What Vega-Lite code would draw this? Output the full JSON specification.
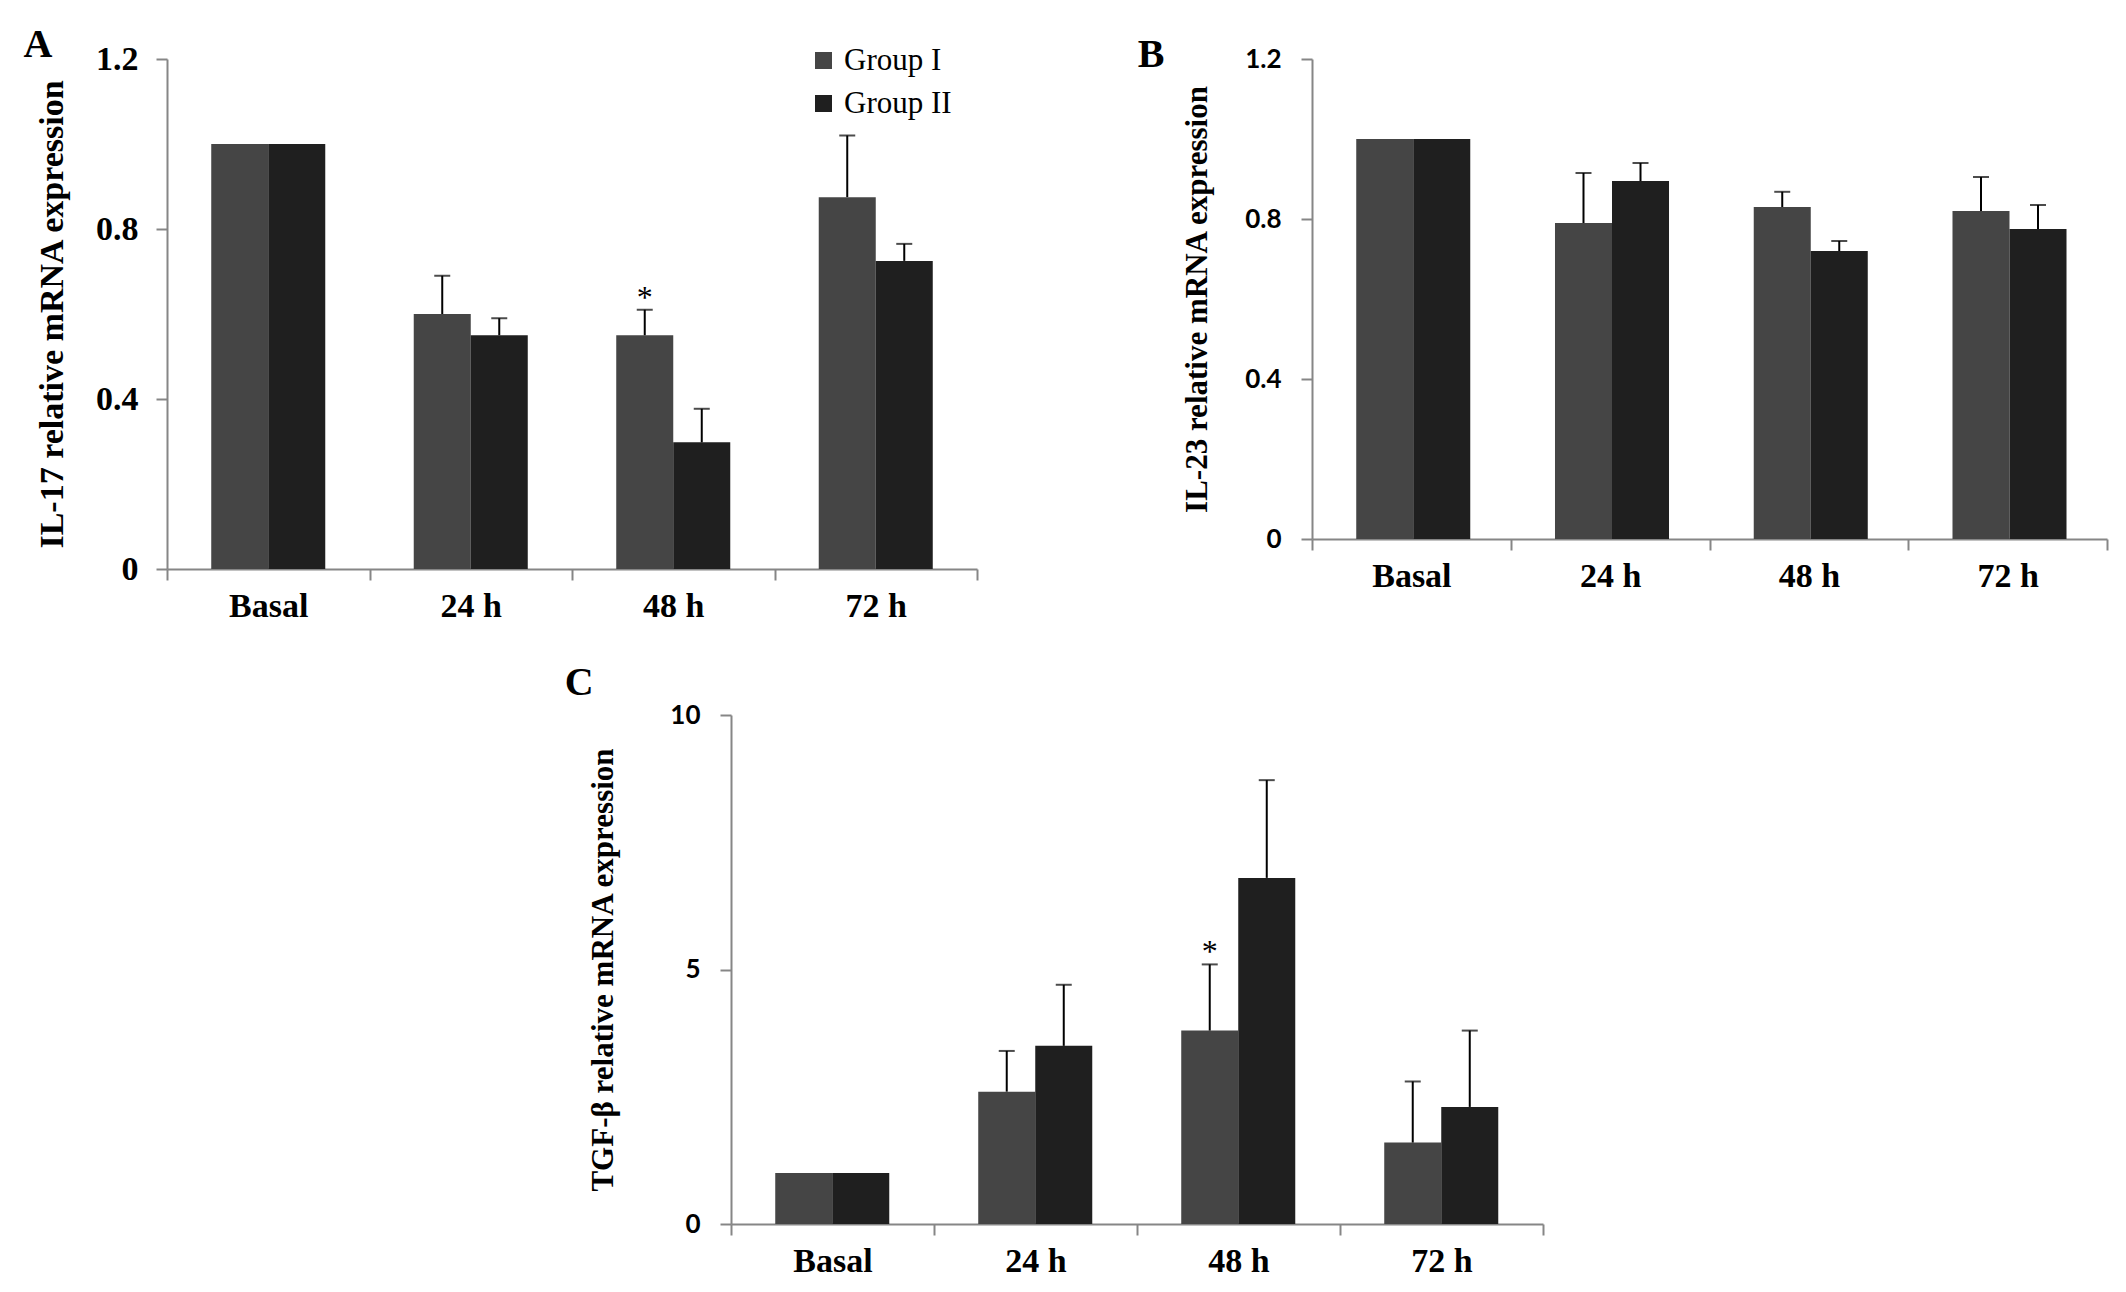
{
  "$schema": "https://vega.github.io/schema/vega-lite/v6.json",
  "background": "white",
  "padding": {"left": 23, "top": 25, "right": 5, "bottom": 5},
  "center": true,
  "spacing": 40,
  "config": {"view": {"stroke": null}, "font": "Liberation Serif"},
  "datasets": {
    "A": [
      {"time": "Basal", "group": "Group I", "value": 1.0},
      {"time": "Basal", "group": "Group II", "value": 1.0},
      {"time": "24 h", "group": "Group I", "value": 0.6, "upper": 0.69},
      {"time": "24 h", "group": "Group II", "value": 0.55, "upper": 0.59},
      {"time": "48 h", "group": "Group I", "value": 0.55, "upper": 0.61, "sig": "*"},
      {"time": "48 h", "group": "Group II", "value": 0.298, "upper": 0.377},
      {"time": "72 h", "group": "Group I", "value": 0.875, "upper": 1.02},
      {"time": "72 h", "group": "Group II", "value": 0.725, "upper": 0.765}
    ],
    "B": [
      {"time": "Basal", "group": "Group I", "value": 1.0},
      {"time": "Basal", "group": "Group II", "value": 1.0},
      {"time": "24 h", "group": "Group I", "value": 0.79, "upper": 0.915},
      {"time": "24 h", "group": "Group II", "value": 0.895, "upper": 0.94},
      {"time": "48 h", "group": "Group I", "value": 0.83, "upper": 0.868},
      {"time": "48 h", "group": "Group II", "value": 0.72, "upper": 0.745},
      {"time": "72 h", "group": "Group I", "value": 0.82, "upper": 0.905},
      {"time": "72 h", "group": "Group II", "value": 0.775, "upper": 0.835}
    ],
    "C": [
      {"time": "Basal", "group": "Group I", "value": 1.0},
      {"time": "Basal", "group": "Group II", "value": 1.0},
      {"time": "24 h", "group": "Group I", "value": 2.6, "upper": 3.4},
      {"time": "24 h", "group": "Group II", "value": 3.5, "upper": 4.7},
      {"time": "48 h", "group": "Group I", "value": 3.8, "upper": 5.1, "sig": "*"},
      {"time": "48 h", "group": "Group II", "value": 6.8, "upper": 8.72},
      {"time": "72 h", "group": "Group I", "value": 1.6, "upper": 2.8},
      {"time": "72 h", "group": "Group II", "value": 2.3, "upper": 3.8}
    ]
  },
  "vconcat": [
    {
      "hconcat": [
        {
          "width": 810,
          "height": 510,
          "title": {"text": "A", "anchor": "start", "frame": "bounds", "font": "Liberation Serif", "fontSize": 40, "fontWeight": "bold", "color": "black", "dx": -12, "dy": 27},
          "data": {"name": "A"},
          "encoding": {
            "x": {"field": "time", "type": "nominal", "sort": ["Basal", "24 h", "48 h", "72 h"],
              "scale": {"paddingInner": 0, "paddingOuter": 0},
              "axis": {"title": null, "tickBand": "extent", "labelAngle": 0, "labelFont": "Liberation Serif", "labelFontSize": 34, "labelFontWeight": "bold", "labelColor": "black", "labelPadding": 9, "tickSize": 11, "tickWidth": 2, "tickColor": "#868686", "domainColor": "#868686", "domainWidth": 2}},
            "xOffset": {"field": "group", "type": "nominal", "scale": {"paddingInner": 0, "paddingOuter": 0.776}}
          },
          "layer": [
            {
              "mark": {"type": "bar"},
              "encoding": {
                "y": {"field": "value", "type": "quantitative", "scale": {"domain": [0, 1.2], "nice": false},
                  "axis": {"title": "IL-17 relative mRNA expression", "titleFont": "Liberation Serif", "titleFontSize": 34, "titleFontWeight": "bold", "titleColor": "black", "titlePadding": 26,
                    "values": [0, 0.4, 0.8, 1.2], "labelExpr": "datum.value == 0 ? '0' : format(datum.value, '.1f')",
                    "labelFont": "Liberation Serif", "labelFontSize": 34, "labelFontWeight": "bold", "labelColor": "black", "labelPadding": 18,
                    "tickSize": 11, "tickWidth": 2, "tickColor": "#868686", "domainColor": "#868686", "domainWidth": 2, "grid": false}},
                "color": {"field": "group", "type": "nominal", "scale": {"domain": ["Group I", "Group II"], "range": ["#454545", "#1f1f1f"]},
                  "legend": {"orient": "none", "legendX": 641, "legendY": -14, "title": null, "symbolType": "square", "symbolSize": 289, "symbolStrokeWidth": 0,
                    "labelFont": "Liberation Serif", "labelFontSize": 31, "labelColor": "black", "labelOffset": 5, "rowPadding": 11}}
              }
            },
            {
              "transform": [{"filter": "isValid(datum.upper)"}],
              "mark": {"type": "rule", "color": "black", "strokeWidth": 2},
              "encoding": {"y": {"field": "value", "type": "quantitative"}, "y2": {"field": "upper"}}
            },
            {
              "transform": [{"filter": "isValid(datum.upper)"}],
              "mark": {"type": "tick", "color": "black", "thickness": 2, "size": 16},
              "encoding": {"y": {"field": "upper", "type": "quantitative"}}
            },
            {
              "transform": [{"filter": "datum.sig == '*'"}],
              "mark": {"type": "text", "font": "Liberation Serif", "fontSize": 32, "color": "black", "baseline": "alphabetic", "dy": -2},
              "encoding": {"y": {"field": "upper", "type": "quantitative"}, "text": {"field": "sig"}}
            }
          ]
        },
        {
          "width": 795,
          "height": 480,
          "title": {"text": "B", "anchor": "start", "frame": "bounds", "font": "Liberation Serif", "fontSize": 40, "fontWeight": "bold", "color": "black", "dx": -44, "dy": 33},
          "data": {"name": "B"},
          "encoding": {
            "x": {"field": "time", "type": "nominal", "sort": ["Basal", "24 h", "48 h", "72 h"],
              "scale": {"paddingInner": 0, "paddingOuter": 0},
              "axis": {"title": null, "tickBand": "extent", "labelAngle": 0, "labelFont": "Liberation Serif", "labelFontSize": 34, "labelFontWeight": "bold", "labelColor": "black", "labelPadding": 9, "tickSize": 11, "tickWidth": 2, "tickColor": "#868686", "domainColor": "#868686", "domainWidth": 2}},
            "xOffset": {"field": "group", "type": "nominal", "scale": {"paddingInner": 0, "paddingOuter": 0.776}}
          },
          "layer": [
            {
              "mark": {"type": "bar"},
              "encoding": {
                "y": {"field": "value", "type": "quantitative", "scale": {"domain": [0, 1.2], "nice": false},
                  "axis": {"title": "IL-23 relative mRNA expression", "titleFont": "Liberation Serif", "titleFontSize": 31, "titleFontWeight": "bold", "titleColor": "black", "titlePadding": 31,
                    "values": [0, 0.4, 0.8, 1.2], "labelExpr": "datum.value == 0 ? '0' : format(datum.value, '.1f')",
                    "labelFont": "Lato", "labelFontSize": 26, "labelFontWeight": "bold", "labelColor": "black", "labelPadding": 20,
                    "tickSize": 11, "tickWidth": 2, "tickColor": "#868686", "domainColor": "#868686", "domainWidth": 2, "grid": false}},
                "color": {"field": "group", "type": "nominal", "scale": {"domain": ["Group I", "Group II"], "range": ["#454545", "#1f1f1f"]}, "legend": null}
              }
            },
            {
              "transform": [{"filter": "isValid(datum.upper)"}],
              "mark": {"type": "rule", "color": "black", "strokeWidth": 2},
              "encoding": {"y": {"field": "value", "type": "quantitative"}, "y2": {"field": "upper"}}
            },
            {
              "transform": [{"filter": "isValid(datum.upper)"}],
              "mark": {"type": "tick", "color": "black", "thickness": 2, "size": 16},
              "encoding": {"y": {"field": "upper", "type": "quantitative"}}
            }
          ]
        }
      ],
      "spacing": 159
    },
    {
      "width": 812,
      "height": 509,
      "title": {"text": "C", "anchor": "start", "frame": "bounds", "font": "Liberation Serif", "fontSize": 40, "fontWeight": "bold", "color": "black", "dx": -23, "dy": 5},
      "data": {"name": "C"},
      "encoding": {
        "x": {"field": "time", "type": "nominal", "sort": ["Basal", "24 h", "48 h", "72 h"],
          "scale": {"paddingInner": 0, "paddingOuter": 0},
          "axis": {"title": null, "tickBand": "extent", "labelAngle": 0, "labelFont": "Liberation Serif", "labelFontSize": 34, "labelFontWeight": "bold", "labelColor": "black", "labelPadding": 9, "tickSize": 11, "tickWidth": 2, "tickColor": "#868686", "domainColor": "#868686", "domainWidth": 2}},
        "xOffset": {"field": "group", "type": "nominal", "scale": {"paddingInner": 0, "paddingOuter": 0.776}}
      },
      "layer": [
        {
          "mark": {"type": "bar"},
          "encoding": {
            "y": {"field": "value", "type": "quantitative", "scale": {"domain": [0, 10], "nice": false},
              "axis": {"title": "TGF-β relative mRNA expression", "titleFont": "Liberation Serif", "titleFontSize": 31, "titleFontWeight": "bold", "titleColor": "black", "titlePadding": 50,
                "values": [0, 5, 10],
                "labelFont": "Lato", "labelFontSize": 26, "labelFontWeight": "bold", "labelColor": "black", "labelPadding": 20,
                "tickSize": 11, "tickWidth": 2, "tickColor": "#868686", "domainColor": "#868686", "domainWidth": 2, "grid": false}},
            "color": {"field": "group", "type": "nominal", "scale": {"domain": ["Group I", "Group II"], "range": ["#454545", "#1f1f1f"]}, "legend": null}
          }
        },
        {
          "transform": [{"filter": "isValid(datum.upper)"}],
          "mark": {"type": "rule", "color": "black", "strokeWidth": 2},
          "encoding": {"y": {"field": "value", "type": "quantitative"}, "y2": {"field": "upper"}}
        },
        {
          "transform": [{"filter": "isValid(datum.upper)"}],
          "mark": {"type": "tick", "color": "black", "thickness": 2, "size": 16},
          "encoding": {"y": {"field": "upper", "type": "quantitative"}}
        },
        {
          "transform": [{"filter": "datum.sig == '*'"}],
          "mark": {"type": "text", "font": "Liberation Serif", "fontSize": 32, "color": "black", "baseline": "alphabetic", "dy": -2},
          "encoding": {"y": {"field": "upper", "type": "quantitative"}, "text": {"field": "sig"}}
        }
      ]
    }
  ]
}
